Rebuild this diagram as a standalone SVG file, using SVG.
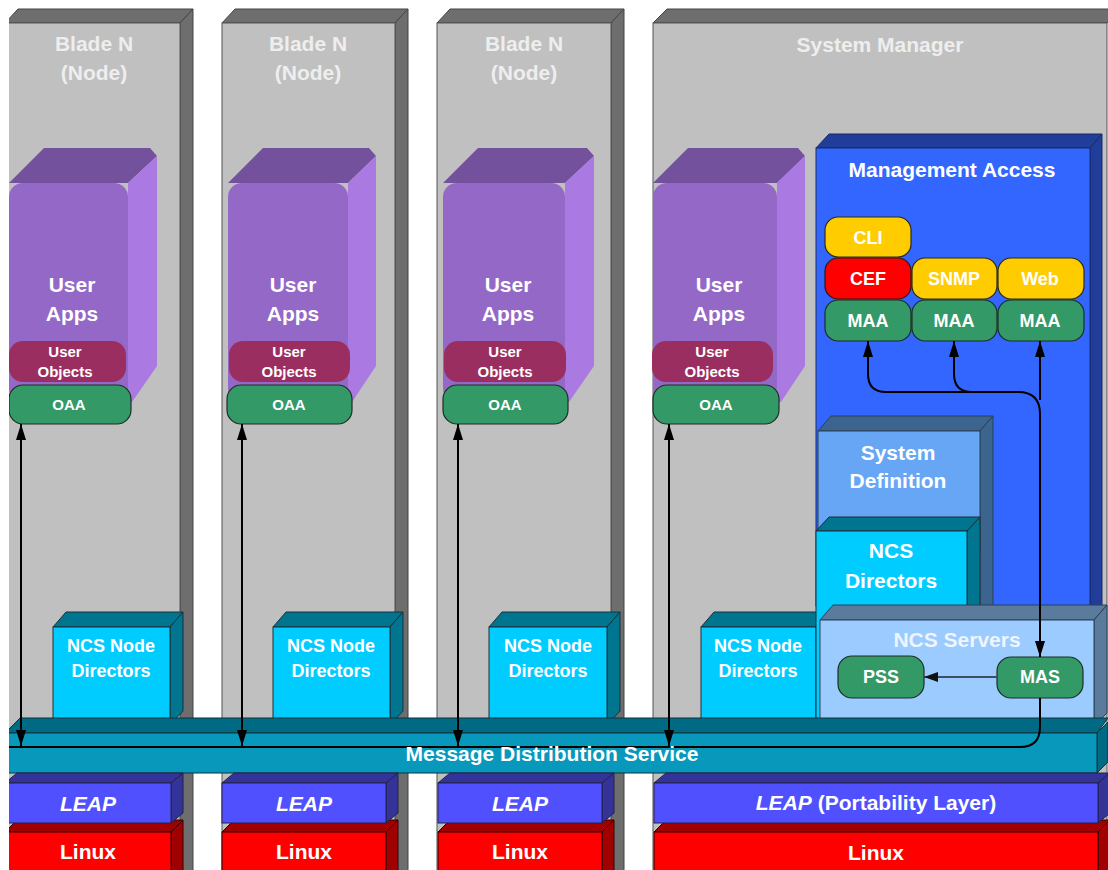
<svg xmlns="http://www.w3.org/2000/svg" width="1108" height="870" viewBox="0 0 1108 870">
  <style>
    text { font-family: "Liberation Sans", Arial, sans-serif; font-weight: bold; text-anchor: middle; fill: #ffffff; }
    .t21 { font-size: 21px; }
    .t18 { font-size: 18px; }
    .t15 { font-size: 15px; }
    .title { fill: #eeeeee; }
    .bladeFront { fill: #c0c0c0; stroke: #555555; stroke-width: 1; }
    .bladeDark { fill: #6e6e6e; stroke: #444444; stroke-width: 1; }
    .appFront { fill: #9468c6; }
    .appTop { fill: #74519d; }
    .appSide { fill: #ab79e2; }
    .uobj { fill: #9b2e60; }
    .green { fill: #339966; stroke: #1e2e26; stroke-width: 1.2; }
    .cyanFront { fill: #00ccff; stroke: #1b3038; stroke-width: 1; }
    .cyanDark { fill: #00758f; stroke: #1b3038; stroke-width: 1; }
    .leapFront { fill: #5050ff; stroke: #222244; stroke-width: 1; }
    .leapDark { fill: #333399; stroke: #222244; stroke-width: 1; }
    .linuxFront { fill: #ff0000; stroke: #330000; stroke-width: 1; }
    .linuxDark { fill: #a00000; stroke: #330000; stroke-width: 1; }
    .busFront { fill: #0898bb; stroke: #10333d; stroke-width: 1; }
    .busDark { fill: #006a84; stroke: #10333d; stroke-width: 1; }
    .maFront { fill: #3366ff; stroke: #1a2a66; stroke-width: 1; }
    .maDark { fill: #1f3d99; stroke: #1a2a66; stroke-width: 1; }
    .sdFront { fill: #66a6f5; stroke: #2a4058; stroke-width: 1; }
    .sdDark { fill: #3b648f; stroke: #2a4058; stroke-width: 1; }
    .srvFront { fill: #9ccbff; stroke: #2a4058; stroke-width: 1; }
    .srvDark { fill: #5a7b9b; stroke: #2a4058; stroke-width: 1; }
    .yellow { fill: #ffcc00; stroke: #2a2a1a; stroke-width: 1.2; }
    .red { fill: #ff0000; stroke: #2a1a1a; stroke-width: 1.2; }
    .wire { fill: none; stroke: #000000; stroke-width: 2; }
  </style>
  <defs>
    <marker id="arrow" viewBox="0 0 16 10" refX="16" refY="5" markerWidth="16" markerHeight="10" markerUnits="userSpaceOnUse" orient="auto-start-reverse">
      <path d="M0,0 L16,5 L0,10 z" fill="#000000"/>
    </marker>
    <marker id="arrowGrey" viewBox="0 0 14 10" refX="14" refY="5" markerWidth="14" markerHeight="10" markerUnits="userSpaceOnUse" orient="auto">
      <path d="M0,0 L14,5 L0,10 z" fill="#111111"/>
    </marker>
    <clipPath id="frame">
      <rect x="9" y="0" width="1099" height="870"/>
    </clipPath>
  </defs>

  <rect x="0" y="0" width="1108" height="870" fill="#ffffff"/>

  <g clip-path="url(#frame)">
    <!-- Blade 1 -->
    <g id="blade1">
      <polygon class="bladeDark" points="5,23 18,9 193,9 180,23"/>
      <polygon class="bladeDark" points="180,23 193,9 193,880 180,880"/>
      <rect class="bladeFront" x="5" y="23" width="175" height="860"/>
      <text class="t21 title" x="94" y="51">Blade N</text>
      <text class="t21 title" x="94" y="80">(Node)</text>
    </g>
    <g id="blade1-apps">
      <polygon class="appTop" points="9,183 44,148 150,148 157,156 128,183"/>
      <polygon class="appSide" points="128,183 157,156 157,366 132,402 128,402"/>
      <rect class="appFront" x="9" y="183" width="119" height="219" rx="14"/>
      <text class="t21" x="72" y="292">User</text>
      <text class="t21" x="72" y="321">Apps</text>
    </g>
    <g id="blade1-objects">
      <rect class="uobj" x="9" y="341" width="117" height="41" rx="14"/>
      <text class="t15" x="65" y="357">User</text>
      <text class="t15" x="65" y="377">Objects</text>
    </g>
    <g id="blade1-oaa">
      <rect class="green" x="9" y="385" width="122" height="39" rx="14"/>
      <text class="t15" x="69" y="410">OAA</text>
    </g>
  </g>

  <!-- Blade 2 -->
  <g id="blade2">
    <polygon class="bladeDark" points="222,23 235,9 408,9 395,23"/>
    <polygon class="bladeDark" points="395,23 408,9 408,880 395,880"/>
    <rect class="bladeFront" x="222" y="23" width="173" height="860"/>
    <text class="t21 title" x="308" y="51">Blade N</text>
    <text class="t21 title" x="308" y="80">(Node)</text>
  </g>
  <g id="blade2-apps">
    <polygon class="appTop" points="228,183 263,148 369,148 376,156 348,183"/>
    <polygon class="appSide" points="348,183 376,156 376,366 352,402 348,402"/>
    <rect class="appFront" x="228" y="183" width="120" height="219" rx="14"/>
    <text class="t21" x="293" y="292">User</text>
    <text class="t21" x="293" y="321">Apps</text>
  </g>
  <g id="blade2-objects">
    <rect class="uobj" x="229" y="341" width="121" height="41" rx="14"/>
    <text class="t15" x="289" y="357">User</text>
    <text class="t15" x="289" y="377">Objects</text>
  </g>
  <g id="blade2-oaa">
    <rect class="green" x="227" y="385" width="125" height="39" rx="14"/>
    <text class="t15" x="289" y="410">OAA</text>
  </g>

  <!-- Blade 3 -->
  <g id="blade3">
    <polygon class="bladeDark" points="437,23 450,9 624,9 611,23"/>
    <polygon class="bladeDark" points="611,23 624,9 624,880 611,880"/>
    <rect class="bladeFront" x="437" y="23" width="174" height="860"/>
    <text class="t21 title" x="524" y="51">Blade N</text>
    <text class="t21 title" x="524" y="80">(Node)</text>
  </g>
  <g id="blade3-apps">
    <polygon class="appTop" points="443,183 478,148 587,148 594,156 565,183"/>
    <polygon class="appSide" points="565,183 594,156 594,366 569,402 565,402"/>
    <rect class="appFront" x="443" y="183" width="122" height="219" rx="14"/>
    <text class="t21" x="508" y="292">User</text>
    <text class="t21" x="508" y="321">Apps</text>
  </g>
  <g id="blade3-objects">
    <rect class="uobj" x="444" y="341" width="122" height="41" rx="14"/>
    <text class="t15" x="505" y="357">User</text>
    <text class="t15" x="505" y="377">Objects</text>
  </g>
  <g id="blade3-oaa">
    <rect class="green" x="443" y="385" width="125" height="39" rx="14"/>
    <text class="t15" x="505" y="410">OAA</text>
  </g>

  <!-- System Manager blade -->
  <g id="system-manager">
    <polygon class="bladeDark" points="653,23 667,9 1120,9 1107,23"/>
    <rect class="bladeFront" x="653" y="23" width="454" height="860"/>
    <text class="t21 title" x="880" y="52">System Manager</text>
  </g>
  <g id="sm-apps">
    <polygon class="appTop" points="653,183 688,148 798,148 805,156 777,183"/>
    <polygon class="appSide" points="777,183 805,156 805,366 781,402 777,402"/>
    <rect class="appFront" x="653" y="183" width="124" height="219" rx="14"/>
    <text class="t21" x="719" y="292">User</text>
    <text class="t21" x="719" y="321">Apps</text>
  </g>
  <g id="sm-objects">
    <rect class="uobj" x="652" y="341" width="121" height="41" rx="14"/>
    <text class="t15" x="712" y="357">User</text>
    <text class="t15" x="712" y="377">Objects</text>
  </g>
  <g id="sm-oaa">
    <rect class="green" x="653" y="385" width="126" height="39" rx="14"/>
    <text class="t15" x="716" y="410">OAA</text>
  </g>

  <!-- Management Access container -->
  <g id="management-access">
    <polygon class="maDark" points="816,148 829,134 1102,134 1090,148"/>
    <polygon class="maDark" points="1090,148 1102,134 1102,606 1090,606"/>
    <rect class="maFront" x="816" y="148" width="274" height="458"/>
    <text class="t21" x="952" y="177">Management Access</text>
  </g>
  <g id="cli">
    <rect class="yellow" x="825" y="217" width="86" height="40" rx="13"/>
    <text class="t18" x="868" y="244">CLI</text>
  </g>
  <g id="cef">
    <rect class="red" x="825" y="258" width="86" height="41" rx="13"/>
    <text class="t18" x="868" y="285">CEF</text>
  </g>
  <g id="snmp">
    <rect class="yellow" x="912" y="258" width="85" height="41" rx="13"/>
    <text class="t18" x="954" y="285">SNMP</text>
  </g>
  <g id="web">
    <rect class="yellow" x="998" y="258" width="86" height="41" rx="13"/>
    <text class="t18" x="1040" y="285">Web</text>
  </g>
  <g id="maa-cli">
    <rect class="green" x="825" y="300" width="86" height="41" rx="13"/>
    <text class="t18" x="868" y="327">MAA</text>
  </g>
  <g id="maa-snmp">
    <rect class="green" x="912" y="300" width="85" height="41" rx="13"/>
    <text class="t18" x="954" y="327">MAA</text>
  </g>
  <g id="maa-web">
    <rect class="green" x="998" y="300" width="86" height="41" rx="13"/>
    <text class="t18" x="1040" y="327">MAA</text>
  </g>

  <g id="system-definition">
    <polygon class="sdDark" points="818,431 831,416 993,416 980,431"/>
    <polygon class="sdDark" points="980,431 993,416 993,606 980,606"/>
    <rect class="sdFront" x="818" y="431" width="162" height="120"/>
    <text class="t21" x="898" y="460">System</text>
    <text class="t21" x="898" y="488">Definition</text>
  </g>

  <!-- NCS node directors per blade -->
  <g id="node-directors-1">
    <polygon class="cyanDark" points="53,627 66,612 183,612 170,627"/>
    <polygon class="cyanDark" points="170,627 183,612 183,711 170,725"/>
    <rect class="cyanFront" x="53" y="627" width="117" height="98"/>
    <text class="t18" x="111" y="652">NCS Node</text>
    <text class="t18" x="111" y="677">Directors</text>
  </g>
  <g id="node-directors-2">
    <polygon class="cyanDark" points="273,627 286,612 403,612 390,627"/>
    <polygon class="cyanDark" points="390,627 403,612 403,711 390,725"/>
    <rect class="cyanFront" x="273" y="627" width="117" height="98"/>
    <text class="t18" x="331" y="652">NCS Node</text>
    <text class="t18" x="331" y="677">Directors</text>
  </g>
  <g id="node-directors-3">
    <polygon class="cyanDark" points="489,627 502,612 620,612 607,627"/>
    <polygon class="cyanDark" points="607,627 620,612 620,711 607,725"/>
    <rect class="cyanFront" x="489" y="627" width="118" height="98"/>
    <text class="t18" x="548" y="652">NCS Node</text>
    <text class="t18" x="548" y="677">Directors</text>
  </g>
  <g id="node-directors-sm">
    <polygon class="cyanDark" points="701,627 714,612 830,612 816,627"/>
    <rect class="cyanFront" x="701" y="627" width="115" height="98"/>
    <text class="t18" x="758" y="652">NCS Node</text>
    <text class="t18" x="758" y="677">Directors</text>
  </g>

  <g id="ncs-directors">
    <polygon class="cyanDark" points="816,531 829,517 980,517 967,531"/>
    <polygon class="cyanDark" points="967,531 980,517 980,620 967,620"/>
    <rect class="cyanFront" x="816" y="531" width="151" height="195"/>
    <text class="t21" x="891" y="558">NCS</text>
    <text class="t21" x="891" y="588">Directors</text>
  </g>

  <g id="ncs-servers">
    <polygon class="srvDark" points="820,620 833,605 1107,605 1094,620"/>
    <polygon class="srvDark" points="1094,620 1107,605 1107,713 1094,726"/>
    <rect class="srvFront" x="820" y="620" width="274" height="106"/>
    <text class="t21" x="957" y="647" style="fill:#eef5ff">NCS Servers</text>
  </g>
  <g id="pss">
    <rect class="green" x="838" y="656" width="86" height="42" rx="14"/>
    <text class="t18" x="881" y="683">PSS</text>
  </g>
  <g id="mas">
    <rect class="green" x="997" y="657" width="86" height="41" rx="14"/>
    <text class="t18" x="1040" y="683">MAS</text>
  </g>

  <!-- Message bus -->
  <g id="message-distribution-service" clip-path="url(#frame)">
    <polygon class="busDark" points="5,733 20,718 1108,718 1097,733"/>
    <polygon class="busDark" points="1097,733 1108,722 1108,762 1097,773"/>
    <rect class="busFront" x="5" y="733" width="1092" height="40"/>
  </g>

  <!-- OS layers -->
  <g clip-path="url(#frame)">
    <g id="linux-1">
      <polygon class="linuxDark" points="5,832 17,820 183,820 171,832"/>
      <polygon class="linuxDark" points="171,832 183,820 183,880 171,880"/>
      <rect class="linuxFront" x="5" y="832" width="166" height="50"/>
      <text class="t21" x="88" y="859">Linux</text>
    </g>
    <g id="leap-1">
      <polygon class="leapDark" points="5,783 17,773 183,773 171,783"/>
      <polygon class="leapDark" points="171,783 183,773 183,813 171,823"/>
      <rect class="leapFront" x="5" y="783" width="166" height="40"/>
      <text class="t21" x="88" y="811" font-style="italic">LEAP</text>
    </g>
  </g>
  <g id="linux-2">
    <polygon class="linuxDark" points="222,832 234,820 398,820 386,832"/>
    <polygon class="linuxDark" points="386,832 398,820 398,880 386,880"/>
    <rect class="linuxFront" x="222" y="832" width="164" height="50"/>
    <text class="t21" x="304" y="859">Linux</text>
  </g>
  <g id="leap-2">
    <polygon class="leapDark" points="222,783 234,773 398,773 386,783"/>
    <polygon class="leapDark" points="386,783 398,773 398,813 386,823"/>
    <rect class="leapFront" x="222" y="783" width="164" height="40"/>
    <text class="t21" x="304" y="811" font-style="italic">LEAP</text>
  </g>
  <g id="linux-3">
    <polygon class="linuxDark" points="438,832 450,820 614,820 602,832"/>
    <polygon class="linuxDark" points="602,832 614,820 614,880 602,880"/>
    <rect class="linuxFront" x="438" y="832" width="164" height="50"/>
    <text class="t21" x="520" y="859">Linux</text>
  </g>
  <g id="leap-3">
    <polygon class="leapDark" points="438,783 450,773 614,773 602,783"/>
    <polygon class="leapDark" points="602,783 614,773 614,813 602,823"/>
    <rect class="leapFront" x="438" y="783" width="164" height="40"/>
    <text class="t21" x="520" y="811" font-style="italic">LEAP</text>
  </g>
  <g id="linux-sm">
    <polygon class="linuxDark" points="654,832 666,820 1110,820 1098,832"/>
    <polygon class="linuxDark" points="1098,832 1110,820 1110,880 1098,880"/>
    <rect class="linuxFront" x="654" y="832" width="444" height="50"/>
    <text class="t21" x="876" y="860">Linux</text>
  </g>
  <g id="leap-sm">
    <polygon class="leapDark" points="654,783 666,773 1110,773 1098,783"/>
    <polygon class="leapDark" points="1098,783 1110,773 1110,813 1098,823"/>
    <rect class="leapFront" x="654" y="783" width="444" height="40"/>
    <text class="t21" x="876" y="810"><tspan font-style="italic">LEAP</tspan> (Portability Layer)</text>
  </g>

  <!-- Connectors -->
  <g id="connectors">
    <line class="wire" x1="21" y1="424" x2="21" y2="746" marker-start="url(#arrow)" marker-end="url(#arrow)"/>
    <line class="wire" x1="242" y1="424" x2="242" y2="746" marker-start="url(#arrow)" marker-end="url(#arrow)"/>
    <line class="wire" x1="458" y1="424" x2="458" y2="746" marker-start="url(#arrow)" marker-end="url(#arrow)"/>
    <line class="wire" x1="669" y1="424" x2="669" y2="746" marker-start="url(#arrow)" marker-end="url(#arrow)"/>
    <!-- MAA (CLI) to MAS -->
    <path class="wire" d="M868,341 V374 Q868,392 886,392 H1018 Q1040,392 1040,414 V657" marker-start="url(#arrow)" marker-end="url(#arrow)"/>
    <!-- MAA (SNMP) joins the same trunk -->
    <path class="wire" d="M954,341 V374 Q954,392 972,392" marker-start="url(#arrow)"/>
    <!-- MAA (Web) -->
    <path class="wire" d="M1040,341 V400" marker-start="url(#arrow)"/>
    <!-- MAS onto the bus -->
    <path class="wire" d="M1040,698 V727 Q1040,747 1020,747 H9"/>
    <!-- MAS to PSS -->
    <line x1="997" y1="677" x2="924" y2="677" stroke="#3b4f5f" stroke-width="2" marker-end="url(#arrowGrey)"/>
  </g>

  <g id="bus-label">
    <text class="t21" x="552" y="761">Message Distribution Service</text>
  </g>
</svg>
